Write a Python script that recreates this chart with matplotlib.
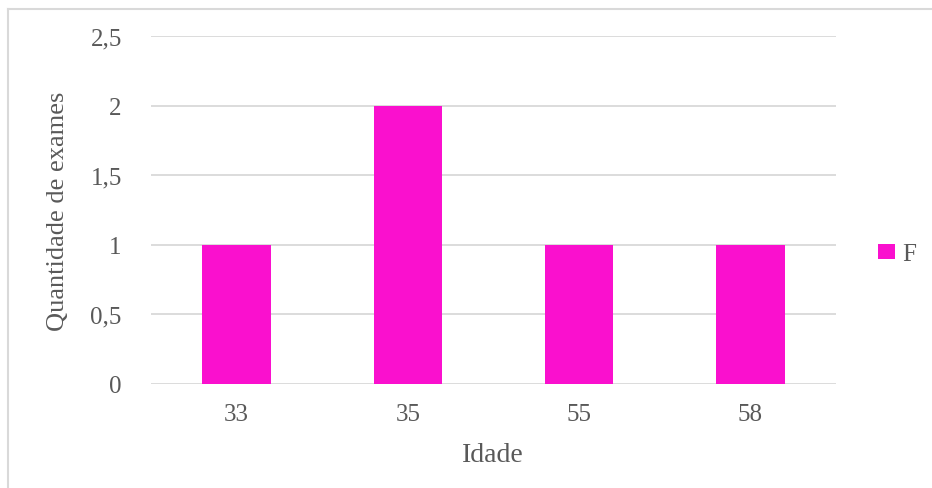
import matplotlib
matplotlib.use("Agg")
import matplotlib.pyplot as plt
from matplotlib.patches import Patch
from matplotlib.lines import Line2D

categories = ["33", "35", "55", "58"]
values_F = [1, 2, 1, 1]
yticks = [0, 0.5, 1, 1.5, 2, 2.5]
series_name = "F"

W, H = 932, 489
fig = plt.figure(figsize=(W/100, H/100), dpi=100)
plt.rcParams['font.family'] = ['Liberation Serif', 'DejaVu Serif']
txt = '#595959'
grid = '#D9D9D9'
bar_color = '#FA10CE'

ax = fig.add_axes([151/W, 1-385/H, (836-151)/W, (385-37)/H])
x = list(range(len(categories)))
ax.bar(x, values_F, width=0.4, color=bar_color, zorder=3)
ax.set_xlim(-0.5, len(categories)-0.5)
ax.set_ylim(0, 2.5)
ax.set_yticks(yticks)
ax.set_yticklabels([("%g" % v).replace('.', ',') for v in yticks])
ax.set_xticks(x)
ax.set_xticklabels(categories)
for s in ax.spines.values():
    s.set_visible(False)
ax.yaxis.grid(True, color=grid, linewidth=1.3, zorder=0)
ax.tick_params(axis='both', length=0, labelsize=18, colors=txt)
ax.tick_params(axis='y', pad=21)
ax.tick_params(axis='x', pad=14)

fig.text(58/W, 1-211/H, "Quantidade de exames", rotation=90, ha='center', va='center',
         fontsize=19, color=txt)
fig.text(493/W, 1-462/H, "Idade", ha='center', va='baseline', fontsize=20, color=txt)

leg = fig.legend(handles=[Patch(facecolor=bar_color, edgecolor='none', label=series_name)],
                 loc='center left', bbox_to_anchor=(878/W, 1-255/H), frameon=False,
                 fontsize=18, handlelength=0.68, handleheight=0.56, handletextpad=0.28,
                 borderaxespad=0, borderpad=0)
for t in leg.get_texts():
    t.set_color(txt)

# chart border (top and left visible)
fig.add_artist(Line2D([8/W, 8/W], [0, 1-10/H], transform=fig.transFigure, color=grid, linewidth=1.5))
fig.add_artist(Line2D([8/W, 1], [1-10/H, 1-10/H], transform=fig.transFigure, color=grid, linewidth=1.5))

fig.savefig("out.png", dpi=100)
